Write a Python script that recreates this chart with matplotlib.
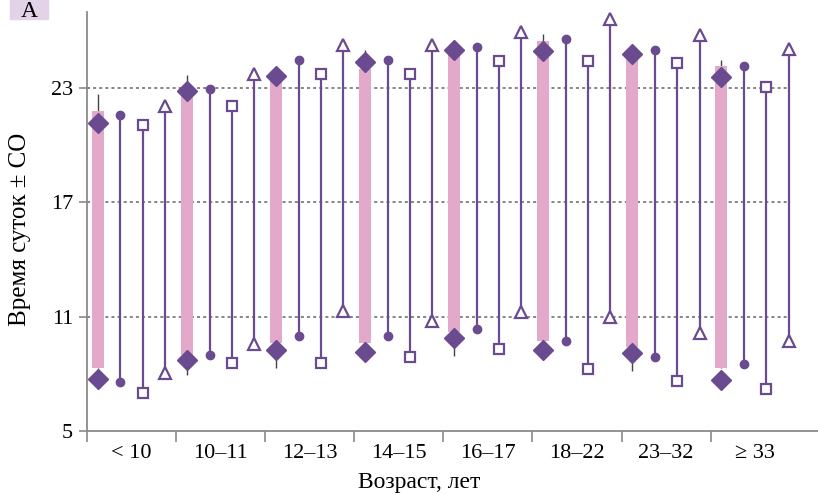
import matplotlib
matplotlib.use('Agg')
import matplotlib.pyplot as plt
import numpy as np

plt.rcParams['font.family'] = ['Liberation Serif', 'DejaVu Serif']

# age groups
categories = ['< 10', '10–11', '12–13', '14–15', '16–17', '18–22', '23–32', '≥ 33']

# pink bars (range) and diamonds
bar_lo = [8.3, 9.0, 9.6, 9.6, 10.2, 9.75, 9.4, 8.3]
bar_hi = [21.8, 23.0, 23.4, 24.0, 24.8, 25.5, 24.6, 24.15]
diamond_lo = [7.72, 8.72, 9.25, 9.13, 9.89, 9.25, 9.07, 7.67]
diamond_hi = [21.15, 22.84, 23.65, 24.35, 25.03, 24.94, 24.82, 23.6]
whisker_lo = [8.3, 7.93, 8.3, 9.6, 8.93, 9.75, 8.14, 8.3]
whisker_hi = [22.7, 23.68, 23.4, 25.03, 24.8, 25.83, 24.6, 24.5]

# other series: bottom / top ends
circle_lo = [7.58, 8.98, 10.0, 10.0, 10.38, 9.72, 8.9, 8.5]
circle_hi = [21.6, 22.98, 24.5, 24.5, 25.17, 25.56, 25.03, 24.17]
square_lo = [7.0, 8.55, 8.55, 8.9, 9.3, 8.25, 7.62, 7.18]
square_hi = [21.07, 22.06, 23.73, 23.72, 24.43, 24.43, 24.3, 23.04]
tri_lo = [8.06, 9.55, 11.29, 10.78, 11.26, 11.0, 10.16, 9.74]
tri_hi = [22.05, 23.77, 25.26, 25.26, 25.96, 26.64, 25.77, 25.07]

yticks = [5, 11, 17, 23]

purple = '#6a4b8f'
pink = '#e2a9cb'
gray = '#8a8a8a'

fig = plt.figure(figsize=(8.18, 4.95), dpi=100)
ax = fig.add_axes([87 / 818, 1 - 431 / 495, 1 - 87 / 818, (431 - 12) / 495])

n = len(categories)
g = np.arange(n)
x_bar = g + 0.12
x_circ = g + 0.375
x_sq = g + 0.625
x_tri = g + 0.875

# dotted gridlines
ax.hlines(yticks[1:], 0, x_tri[-1], colors='#666666', linestyles=(0, (2, 2)),
          linewidth=1.1, zorder=1)

# thin whiskers
ax.vlines(x_bar, whisker_lo, whisker_hi, colors='#444444', linewidth=1.0, zorder=1.5)

# pink bars
ax.bar(x_bar, np.array(bar_hi) - np.array(bar_lo), bottom=bar_lo, width=0.135,
       color=pink, linewidth=0, zorder=2)
ax.plot(x_bar, diamond_lo, 'D', ms=10.5, color=purple, mec=purple, zorder=5)
ax.plot(x_bar, diamond_hi, 'D', ms=10.5, color=purple, mec=purple, zorder=5)

# stems
for xs, lo, hi in [(x_circ, circle_lo, circle_hi), (x_sq, square_lo, square_hi),
                   (x_tri, tri_lo, tri_hi)]:
    ax.vlines(xs, lo, hi, colors=purple, linewidth=1.6, zorder=3)

ax.plot(x_circ, circle_lo, 'o', ms=6, color=purple, zorder=4)
ax.plot(x_circ, circle_hi, 'o', ms=6, color=purple, zorder=4)
ax.plot(x_sq, square_lo, 's', ms=6.5, mfc='white', mec=purple, mew=1.6, zorder=4)
ax.plot(x_sq, square_hi, 's', ms=6.5, mfc='white', mec=purple, mew=1.6, zorder=4)
ax.plot(x_tri, tri_lo, '^', ms=8.5, mfc='white', mec=purple, mew=1.6, zorder=4)
ax.plot(x_tri, tri_hi, '^', ms=8.5, mfc='white', mec=purple, mew=1.6, zorder=4)

ax.set_xlim(0, 731 / 89.1)
ax.set_ylim(5, 27)

ax.set_yticks(yticks)
ax.set_yticklabels([str(v) for v in yticks], fontsize=16)
ax.set_xticks(np.arange(n))
ax.set_xticklabels([])
ax.set_xticks(g + 0.5, minor=True)
ax.set_xticklabels(categories, minor=True, fontsize=16)
ax.tick_params(axis='x', which='major', length=8, color=gray, width=1.2)
ax.tick_params(axis='x', which='minor', length=0, pad=9)
ax.tick_params(axis='y', length=6, color=gray, width=1.2, pad=4)

for side in ['top', 'right']:
    ax.spines[side].set_visible(False)
for side in ['left', 'bottom']:
    ax.spines[side].set_color(gray)
    ax.spines[side].set_linewidth(1.3)

ax.set_xlabel('Возраст, лет', fontsize=17)
ax.xaxis.set_label_coords((419 - 87) / 731, (431 - 472) / 419)
ax.set_ylabel('Время суток ± СО', fontsize=18)
ax.yaxis.set_label_coords((31 - 87) / 731, (431 - 229) / 419)

# panel letter
fig.patches.append(plt.Rectangle((10 / 818, 1 - 19 / 495), 38 / 818, 19 / 495,
                                 transform=fig.transFigure, color='#e3d3e8', zorder=0))
fig.text(29 / 818, 1 - 17 / 495, 'A', fontsize=17, ha='center', va='baseline')

fig.savefig('out.png', dpi=100)
